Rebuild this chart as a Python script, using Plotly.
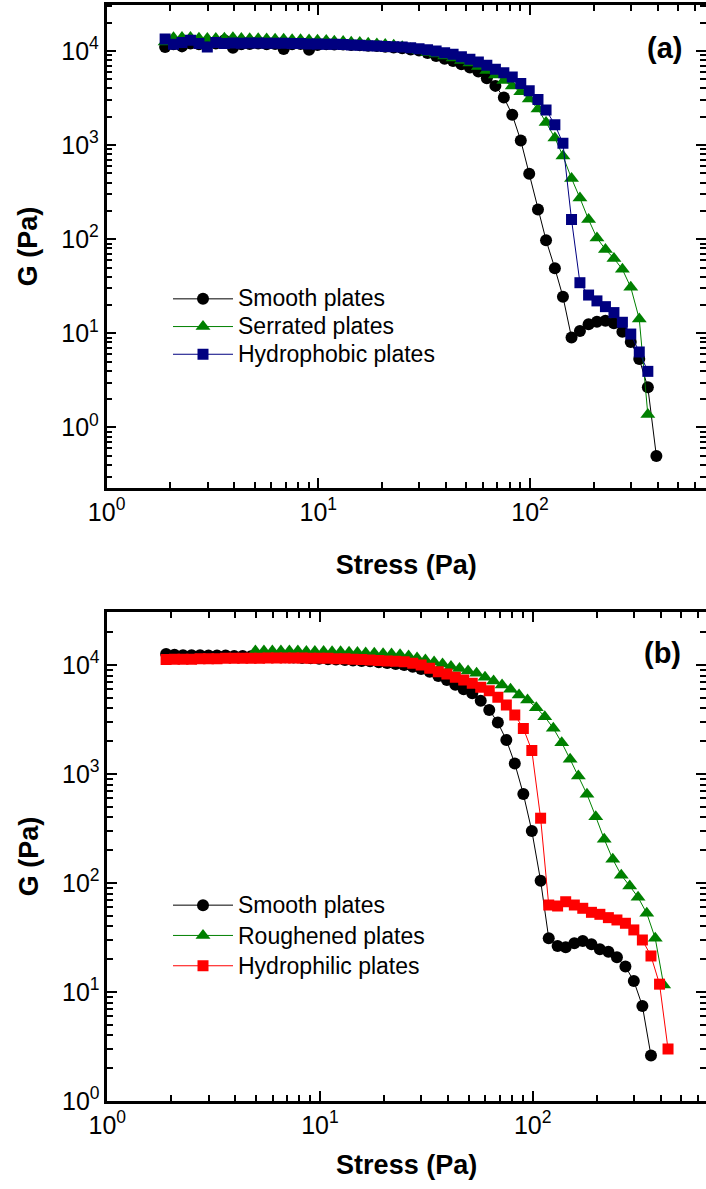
import plotly.graph_objects as go

# ---------------- data ----------------
# stress grid (Pa), shared by most series
stress = [1.89, 2.07, 2.27, 2.49, 2.73, 2.99, 3.28, 3.60, 3.95, 4.33, 4.74, 5.20, 5.70, 6.25,
          6.86, 7.52, 8.24, 9.04, 9.91, 10.9, 11.9, 13.1, 14.3, 15.7, 17.2, 18.9, 20.7, 22.7,
          24.9, 27.3, 29.9, 32.8, 36.0, 39.5, 43.3, 47.4, 52.0, 57.0, 62.5, 68.6, 75.2, 82.4,
          90.4, 99.1, 109, 119, 131, 143, 157, 172, 189, 207, 227, 249, 273, 299, 328, 360,
          395, 433]

# panel (a)
a_smooth = [11000, 11800, 11200, 12000, 11800, 12200, 12000, 13000, 10800, 11800, 11900, 12000,
            11800, 11900, 10500, 11800, 11900, 10300, 11600, 11800, 11700, 11700, 11600, 11500,
            11400, 11300, 11100, 10900, 10700, 10400, 10100,
            9530, 8850, 8290, 7840, 7220, 6660, 6040, 5140, 4260, 3210, 2100, 1117, 495, 207,
            97.6, 49.0, 24.5, 9.03, 10.6, 12.5, 13.3, 13.6, 12.8, 10.4, 8.07, 5.33, 2.67, 0.497]
a_serrated = [12500, 13800, 13900, 13900, 13700, 13600, 13600, 13700, 13800, 13600, 13500, 13500,
              13400, 13300, 13300, 13200, 13200, 13100, 13000, 12900, 12700, 12600, 12400, 12300,
              12100, 11900, 11700, 11500,
              11100, 10600, 10100, 9640, 9300, 8850, 8430, 7930, 7460, 6850, 6220, 5570, 4870,
              4260, 3680, 3083, 2415, 1742, 1191, 765, 443, 274, 161.5, 103, 77.8, 62.5, 47.8,
              30.8, 14.2, 1.37]
a_hydrophobic = [13400, 11800, 12300, 13000, 12000, 11000, 12300, 12000, 12200, 12100, 12200,
                 12200, 12100, 12100, 12100, 12000, 12000, 11900, 11900, 11800, 11800, 11700,
                 11600, 11500, 11400, 11300, 11200, 11100,
                 11030, 10830, 10580, 10320, 10000, 9590, 9230, 8710, 8170, 7650, 7060, 6400,
                 5890, 5310, 4510, 3775, 3055, 2360, 1647, 1045, 161.6, 34.5, 25.5, 22.1, 19.2,
                 16.6, 13.1, 9.82, 6.33, 3.94]

# panel (b)
b_smooth = [12600, 12400, 12300, 12300, 12300, 12200, 12200, 12200, 12100, 12100, 12000, 12000,
            11900, 11900, 11800, 11700, 11600, 11500, 11400, 11300, 11200, 11100, 11000, 10900,
            10800, 10600, 10400, 10200,
            10000, 9650, 9190, 8680, 7930, 7280, 6600, 6000, 5500, 4700, 3865, 2960, 2050, 1247,
            656, 300, 105, 31.1, 26.4, 25.7, 28.0, 29.4, 27.4, 24.7, 23.4, 20.8, 17.1, 12.6,
            7.45, 2.61]
b_hydrophilic = [11200, 11300, 11300, 11300, 11400, 11400, 11400, 11500, 11500, 11500, 11500,
                 11500, 11600, 11600, 11600, 11600, 11600, 11500, 11500, 11500, 11400, 11400,
                 11300, 11200, 11100, 11000, 10900, 10800,
                 10700, 10360, 10000, 9320, 8680, 8270, 7710, 7280, 6790, 6240, 5800, 5050, 4300,
                 3480, 2620, 1640, 393, 62.8, 61.5, 67.3, 62.8, 58.6, 53.8, 51.6, 48.1, 45.8,
                 42.7, 37.1, 30.0, 21.4, 11.8, 3.0]
b_rough_stress = [4.97, 5.45, 5.97, 6.55, 7.18, 7.87, 8.63, 9.46, 10.4, 11.4, 12.5, 13.7, 15.0,
                  16.4, 18.0, 19.8, 21.7, 23.8, 26.1, 28.6, 31.3, 34.4, 37.7, 41.3, 45.3, 49.7,
                  54.5, 59.7, 65.5, 71.8, 78.7, 86.3, 94.6, 104, 114, 125, 137, 150, 164, 180,
                  198, 217, 238, 261, 286, 313, 344, 377, 413]
b_roughened = [13400, 13400, 13400, 13400, 13400, 13400, 13300, 13300, 13300, 13200, 13200, 13100,
               13000, 12900, 12800, 12700, 12600, 12400,
               12100, 11600, 11100, 10660, 10200, 9690, 9290, 8810, 8390, 7710, 7130, 6560, 5990,
               5310, 4780, 4060, 3350, 2630, 1936, 1364, 960, 652, 406, 252, 165, 118, 93.8, 73.9,
               52.7, 31.1, 11.6]

x_tickvals = [1, 10, 100, 1000]
x_ticktext = ["10<sup>0</sup>", "10<sup>1</sup>", "10<sup>2</sup>", "10<sup>3</sup>"]
y_tickvals = [1, 10, 100, 1000, 10000]
y_ticktext = ["10<sup>0</sup>", "10<sup>1</sup>", "10<sup>2</sup>", "10<sup>3</sup>", "10<sup>4</sup>"]

FONT = "Arial, Liberation Sans, sans-serif"
LEG_SIZE = 23

fig = go.Figure()

def add(x, y, name, color, symbol, size, xa, ya, legend):
    fig.add_trace(go.Scatter(
        x=x[:len(y)], y=y, mode="lines+markers",
        name='<span style="font-size:%dpx">%s</span>' % (LEG_SIZE, name),
        line=dict(color=color, width=1),
        marker=dict(symbol=symbol, size=size, color=color, line=dict(width=0)),
        xaxis=xa, yaxis=ya, legend=legend))

add(stress, a_smooth, "Smooth plates", "black", "circle", 12, "x", "y", "legend")
add(stress, a_serrated, "Serrated plates", "#008000", "triangle-up", 13, "x", "y", "legend")
add(stress, a_hydrophobic, "Hydrophobic plates", "#000080", "square", 11, "x", "y", "legend")

add(stress, b_smooth, "Smooth plates", "black", "circle", 12, "x2", "y2", "legend2")
add(b_rough_stress, b_roughened, "Roughened plates", "#008000", "triangle-up", 13, "x2", "y2", "legend2")
add(stress, b_hydrophilic, "Hydrophilic plates", "#ff0000", "square", 11, "x2", "y2", "legend2")

def axis(rng, domain, anchor, title, tv, tt, standoff):
    return dict(
        type="log", range=rng, domain=domain, anchor=anchor,
        showline=True, linecolor="black", linewidth=2.5, mirror="allticks",
        ticks="inside", ticklen=10, tickwidth=2, tickcolor="black",
        tickmode="array", tickvals=tv, ticktext=tt,
        tickfont=dict(family=FONT, size=25, color="black"),
        showgrid=False, zeroline=False,
        minor=dict(ticks="inside", ticklen=6, tickwidth=1.5, tickcolor="black",
                   dtick="D1", showgrid=False),
        title=dict(text=title, font=dict(family=FONT, size=27, color="black", weight="bold"),
                   standoff=standoff),
        automargin=False,
    )

H = 1189.0
W = 706.0
fig.update_layout(
    width=706, height=1189,
    margin=dict(l=0, r=0, t=0, b=0),
    paper_bgcolor="white", plot_bgcolor="white",
    font=dict(family=FONT, color="black"),
    xaxis=axis([0, 2.831], [106.6 / W, 1.0], "y", "Stress (Pa)", x_tickvals, x_ticktext, 31),
    yaxis=axis([-0.644, 4.489], [1 - 488 / H, 1 - 5 / H], "x", "G (Pa)", y_tickvals, y_ticktext, 16),
    xaxis2=axis([0, 2.815], [107.3 / W, 1.0], "y2", "Stress (Pa)", x_tickvals, x_ticktext, 18),
    yaxis2=axis([0, 4.486], [1 - 1101 / H, 1 - 612 / H], "x2", "G (Pa)", y_tickvals, y_ticktext, 16),
    legend=dict(x=168 / W, y=1 - 280 / H, xanchor="left", yanchor="top",
                bgcolor="rgba(0,0,0,0)", font=dict(family=FONT, size=19, color="black"),
                itemwidth=60, tracegroupgap=0),
    legend2=dict(x=168 / W, y=1 - 885 / H, xanchor="left", yanchor="top",
                 bgcolor="rgba(0,0,0,0)", font=dict(family=FONT, size=21, color="black"),
                 itemwidth=60, tracegroupgap=0),
    showlegend=True,
    annotations=[
        dict(text="<b>(a)</b>", x=664 / W, y=1 - 48 / H, xref="paper", yref="paper",
             xanchor="center", yanchor="middle",
             showarrow=False, font=dict(family=FONT, size=29, color="black")),
        dict(text="<b>(b)</b>", x=662 / W, y=1 - 653 / H, xref="paper", yref="paper",
             xanchor="center", yanchor="middle",
             showarrow=False, font=dict(family=FONT, size=29, color="black")),
    ],
)

fig.write_html("out.html")
